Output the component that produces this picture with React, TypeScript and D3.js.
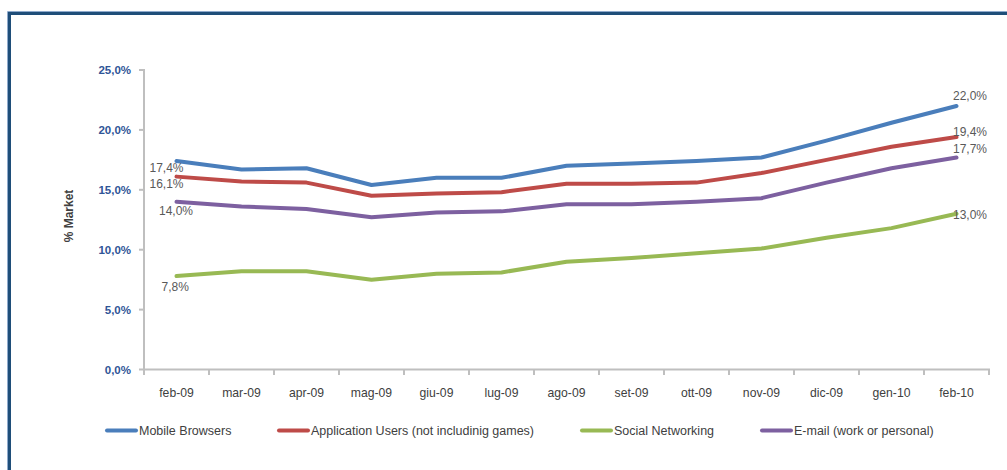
import React from "react";
import * as d3 from "d3";

const categories = ["feb-09","mar-09","apr-09","mag-09","giu-09","lug-09","ago-09","set-09","ott-09","nov-09","dic-09","gen-10","feb-10"];
const mobileBrowsers = [17.4,16.7,16.8,15.4,16.0,16.0,17.0,17.2,17.4,17.7,19.1,20.6,22.0];
const applicationUsers = [16.1,15.7,15.6,14.5,14.7,14.8,15.5,15.5,15.6,16.4,17.5,18.6,19.4];
const socialNetworking = [7.8,8.2,8.2,7.5,8.0,8.1,9.0,9.3,9.7,10.1,11.0,11.8,13.0];
const email = [14.0,13.6,13.4,12.7,13.1,13.2,13.8,13.8,14.0,14.3,15.6,16.8,17.7];
const yTicks = [0,5,10,15,20,25];
const seriesNames = ["Mobile Browsers","Application Users (not includinig games)","Social Networking","E-mail (work or personal)"];

const series = [
  { name: seriesNames[0], values: mobileBrowsers, color: "#4A7EBB" },
  { name: seriesNames[1], values: applicationUsers, color: "#BE4B48" },
  { name: seriesNames[2], values: socialNetworking, color: "#98B954" },
  { name: seriesNames[3], values: email, color: "#7D60A0" },
];

const fmt = (v: number) => v.toFixed(1).replace(".", ",") + "%";

export default function App() {
  const W = 1007, H = 470;
  const x = d3.scaleBand<string>().domain(categories).range([144, 989]);
  const y = d3.scaleLinear().domain([0, 25]).range([369.5, 70]);
  const cx = (c: string) => (x(c) as number) + x.bandwidth() / 2;
  const line = d3.line<number>().x((_, i) => cx(categories[i])).y((d) => y(d));
  const font = "'Liberation Sans', Arial, sans-serif";
  const last = categories.length - 1;

  // label offsets in series order: blue, red, green, purple
  const firstLabelPos = [
    { dx: -27, dy: 7 },
    { dx: -27, dy: 7 },
    { dx: -15, dy: 11 },
    { dx: -17.5, dy: 9.5 },
  ];
  const lastLabelPos = [
    { dx: -3.5, dy: -10.5 },
    { dx: -3.5, dy: -5.6 },
    { dx: -3.5, dy: 1 },
    { dx: -3.5, dy: -9 },
  ];

  const legendX = [106, 278, 581, 761];

  return (
    <svg width={W} height={H} style={{ position: "absolute", left: 0, top: 0, fontFamily: font }}>
      <rect x={0} y={0} width={W} height={H} fill="#fff" />
      {/* frame */}
      <path d={`M9.5,${H} V13.5 H${W}`} fill="none" stroke="#1F4E79" strokeWidth={3} />
      <path d={`M7.5,${H} V11.5 H${W}`} fill="none" stroke="#8FAACC" strokeWidth={1} />

      {/* axes */}
      <line x1={144} x2={144} y1={69} y2={370.5} stroke="#BFBFBF" strokeWidth={2} />
      <line x1={143} x2={990} y1={369.5} y2={369.5} stroke="#BFBFBF" strokeWidth={2} />
      {yTicks.map((t) => (
        <g key={t}>
          <line x1={139} x2={144} y1={y(t)} y2={y(t)} stroke="#BFBFBF" strokeWidth={2} />
          <text x={131} y={y(t)} dy="0.35em" textAnchor="end" fontSize={11.5} fontWeight="bold" fill="#2F5597">
            {t.toFixed(1).replace(".", ",") + "%"}
          </text>
        </g>
      ))}
      {categories.map((c) => (
        <line key={"t" + c} x1={(x(c) as number)} x2={(x(c) as number)} y1={369.5} y2={375} stroke="#BFBFBF" strokeWidth={2} />
      ))}
      <line x1={989} x2={989} y1={369.5} y2={375} stroke="#BFBFBF" strokeWidth={2} />
      {categories.map((c) => (
        <text key={c} x={cx(c)} y={393} dy="0.35em" textAnchor="middle" fontSize={12.2} fill="#404040">{c}</text>
      ))}
      <text transform="translate(72.5,216) rotate(-90)" textAnchor="middle" fontSize={12} fontWeight="bold" fill="#404040">% Market</text>

      {/* lines */}
      {series.map((s) => (
        <path key={s.name} d={line(s.values) || ""} fill="none" stroke={s.color} strokeWidth={4} strokeLinejoin="round" strokeLinecap="round" />
      ))}

      {/* data labels */}
      {series.map((s, k) => (
        <g key={"l" + s.name} fontSize={12} fill="#595959">
          <text x={cx(categories[0]) + firstLabelPos[k].dx} y={y(s.values[0]) + firstLabelPos[k].dy} dy="0.35em">{fmt(s.values[0])}</text>
          <text x={cx(categories[last]) + lastLabelPos[k].dx} y={y(s.values[last]) + lastLabelPos[k].dy} dy="0.35em">{fmt(s.values[last])}</text>
        </g>
      ))}

      {/* legend */}
      {series.map((s, k) => (
        <g key={"lg" + s.name}>
          <line x1={legendX[k] + 1} x2={legendX[k] + 30} y1={430.5} y2={430.5} stroke={s.color} strokeWidth={4} strokeLinecap="round" />
          <text x={legendX[k] + 33} y={431} dy="0.35em" fontSize={12.5} fill="#404040">{s.name}</text>
        </g>
      ))}
    </svg>
  );
}
